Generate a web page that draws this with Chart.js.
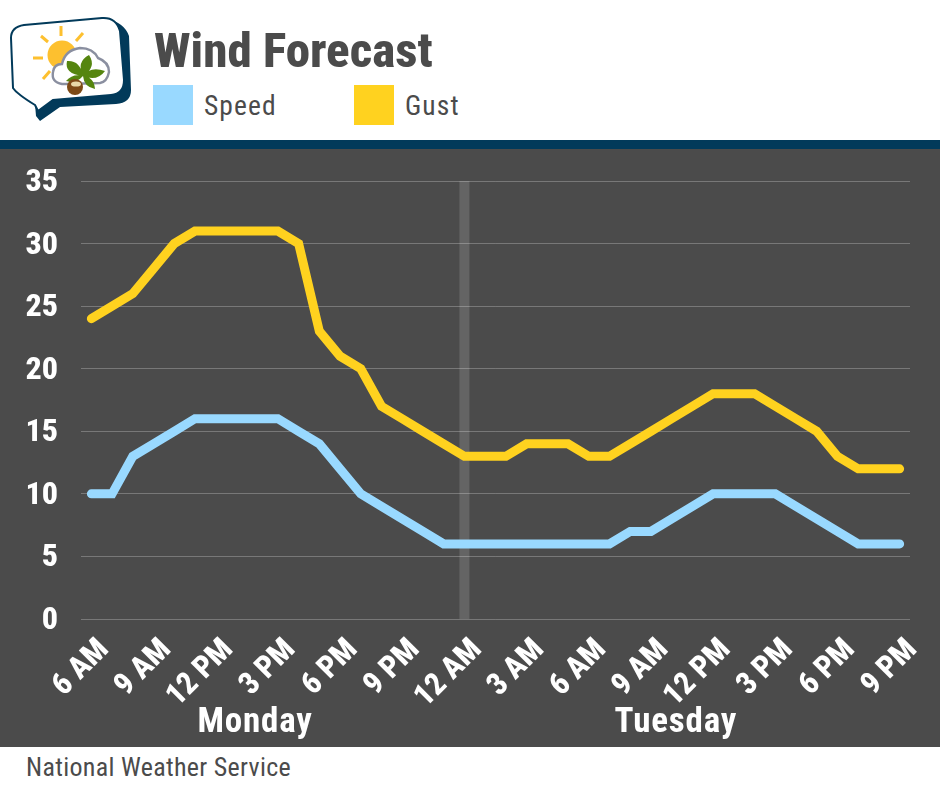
<!DOCTYPE html>
<html>
<head>
<meta charset="utf-8">
<title>Wind Forecast</title>
<script src="https://cdn.jsdelivr.net/npm/chart.js@4"></script>
<style>
  html, body { margin: 0; padding: 0; background: #fff; }
  body { position: relative; width: 940px; height: 788px; overflow: hidden; font-family: "Roboto Condensed", "Liberation Sans Narrow", Roboto, sans-serif; color: #4b4b4b; }
  .logo { position: absolute; left: 0; top: 0; }
  h1 { position: absolute; left: 154px; top: 23px; margin: 0; font-size: 49px; line-height: 56px; font-weight: 800; white-space: nowrap; }
  .swatch { position: absolute; top: 85px; width: 40px; height: 40px; }
  .key { position: absolute; top: 89px; font-size: 27.5px; line-height: 34px; letter-spacing: 1.1px; white-space: nowrap; }
  .rule { position: absolute; left: 0; top: 140px; width: 940px; height: 9px; background: #023a5a; }
  .panel { position: absolute; left: 0; top: 149px; width: 940px; height: 598px; background: #4b4b4b; }
  .source { position: absolute; left: 26px; top: 751px; font-size: 26px; line-height: 32px; letter-spacing: 0.3px; white-space: nowrap; }
</style>
</head>
<body>
<svg class="logo" width="140" height="130" viewBox="0 0 140 130">
  <path d="M24 28 L106 19 Q124 22 129 36 L131 90 Q131 103 116 104 L60 107 L40 121 L36 116 L35 104 Z" fill="#023a5a"/>
  <path d="M24 25 L102 18 Q116 17 120 31 L124 80 Q124 94 111 95 L53 100 L38 111 L35 105 Q17 94 13 88 L11 38 Q11 27 24 25 Z" fill="#fff" stroke="#023a5a" stroke-width="2"/>
  <g stroke="#fdc02f" stroke-width="3" fill="none">
    <path d="M61 26 V36 M41 36 L48 42 M83 33 L76 41 M33 58 H43 M43 79 L50 71"/>
  </g>
  <circle cx="62" cy="55" r="14.5" fill="#fdc02f"/>
  <path d="M62 84 Q51 82 53 72 Q54 64 62 64 Q65 50 80 48 Q93 48 98 58 Q109 62 109 72 Q107 82 100 83 L66 84 Z" fill="#fff" stroke="#8a8fa0" stroke-width="2.4"/>
  <path d="M83 76 Q64 74 67 61 Q80 60 83 76 Z M83 76 Q76 62 89 55 Q97 67 83 76 Z M83 76 Q90 66 105 71 Q97 82 83 76 Z M83 76 Q94 77 95 89 Q84 87 83 76 Z M83 76 Q73 73 66 81 Q76 84 83 76 Z" fill="#55850f"/>
  <circle cx="75" cy="87" r="8" fill="#7d4a16"/>
  <ellipse cx="76" cy="84" rx="5" ry="2.6" fill="#e8d9a8"/>
</svg>
<h1>Wind Forecast</h1>
<div id="legend"></div>
<div class="rule"></div>
<div class="panel"></div>
<canvas id="chart" width="940" height="598" style="position:absolute;left:0;top:149px"></canvas>
<div class="source">National Weather Service</div>

<script>
// hourly, 6 AM Monday through 9 PM Tuesday
const hours = [
  '6 AM','7 AM','8 AM','9 AM','10 AM','11 AM','12 PM','1 PM','2 PM','3 PM','4 PM','5 PM','6 PM','7 PM','8 PM','9 PM','10 PM','11 PM',
  '12 AM','1 AM','2 AM','3 AM','4 AM','5 AM','6 AM','7 AM','8 AM','9 AM','10 AM','11 AM','12 PM','1 PM','2 PM','3 PM','4 PM','5 PM','6 PM','7 PM','8 PM','9 PM'
];
const speed = [10,10,13,14,15,16,16,16,16,16,15,14,12,10,9,8,7,6,6,6,6,6,6,6,6,6,7,7,8,9,10,10,10,10,9,8,7,6,6,6];
const gust = [24,25,26,28,30,31,31,31,31,31,30,23,21,20,17,16,15,14,13,13,13,14,14,14,13,13,14,15,16,17,18,18,18,17,16,15,13,12,12,12];
const yTicks = [0,5,10,15,20,25,30,35];
const dayNames = ['Monday','Tuesday'];
const dayCenters = [7.9,28.2];
const midnight = 18;
const speedColor = '#99d9ff';
const gustColor = '#ffd21f';
const fontName = '"Roboto Condensed", "Liberation Sans Narrow", Roboto, sans-serif';

const legendItems = [
  { name: 'Speed', color: speedColor, left: 153 },
  { name: 'Gust', color: gustColor, left: 354 }
];
document.getElementById('legend').innerHTML = legendItems.map(it =>
  `<div class="swatch" style="left:${it.left}px;background:${it.color}"></div>` +
  `<div class="key" style="left:${it.left + 51}px">${it.name}</div>`
).join('');

// grey band behind the lines at midnight
const midnightBand = {
  id: 'midnightBand',
  beforeDatasetsDraw(chart) {
    const { ctx, chartArea, scales } = chart;
    const x = scales.x.getPixelForValue(midnight);
    ctx.save();
    ctx.fillStyle = 'rgba(255,255,255,0.14)';
    ctx.fillRect(x - 5, chartArea.top, 10, chartArea.bottom - chartArea.top);
    ctx.restore();
  }
};

// Monday / Tuesday under the hour labels
const dayLabels = {
  id: 'dayLabels',
  afterDraw(chart) {
    const { ctx, scales } = chart;
    ctx.save();
    ctx.fillStyle = '#fff';
    ctx.font = '700 35px ' + fontName;
    ctx.letterSpacing = '0.8px';
    ctx.textAlign = 'center';
    ctx.textBaseline = 'alphabetic';
    dayNames.forEach((name, i) => {
      ctx.fillText(name, scales.x.getPixelForValue(dayCenters[i]), 583);
    });
    ctx.restore();
  }
};

new Chart(document.getElementById('chart'), {
  type: 'line',
  data: {
    labels: hours,
    datasets: [
      { label: 'Speed', data: speed, borderColor: speedColor },
      { label: 'Gust', data: gust, borderColor: gustColor }
    ]
  },
  options: {
    responsive: false,
    animation: false,
    devicePixelRatio: 1,
    layout: { autoPadding: false, padding: { top: 32, right: 30, left: 0, bottom: 0 } },
    elements: {
      point: { radius: 0 },
      line: { borderWidth: 9, tension: 0, borderJoinStyle: 'miter', borderCapStyle: 'round' }
    },
    plugins: { legend: { display: false }, title: { display: false }, tooltip: { enabled: false } },
    scales: {
      x: {
        offset: true,
        grid: { display: false },
        border: { display: false },
        afterFit(scale) { scale.height = 128; scale.paddingLeft = scale.paddingRight = 0; },
        ticks: {
          autoSkip: false,
          maxRotation: 45,
          minRotation: 45,
          padding: 5,
          labelOffset: 13,
          color: '#fff',
          font: { family: fontName, size: 31, weight: '800' },
          callback(v, i) { return i % 3 === 0 ? hours[i] : ''; }
        }
      },
      y: {
        min: 0,
        max: 35,
        afterFit(scale) { scale.width = 81; scale.paddingTop = scale.paddingBottom = 0; },
        afterBuildTicks(scale) { scale.ticks = yTicks.map(value => ({ value })); },
        grid: { color: 'rgba(255,255,255,0.25)', lineWidth: 1, drawTicks: false },
        border: { display: false },
        ticks: {
          padding: 23,
          labelOffset: 2,
          color: '#fff',
          font: { family: fontName, size: 32, weight: '800' }
        }
      }
    }
  },
  plugins: [midnightBand, dayLabels]
});
</script>
</body>
</html>
